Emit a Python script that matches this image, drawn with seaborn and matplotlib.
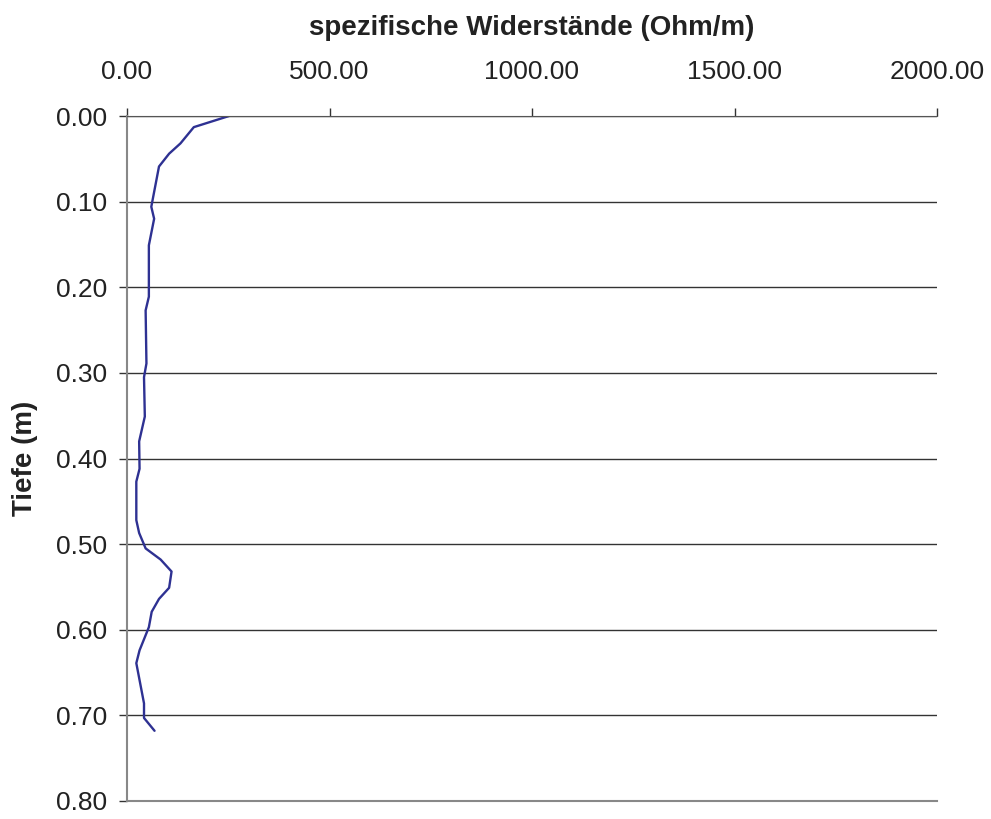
import pandas as pd
import matplotlib
matplotlib.use('Agg')
import matplotlib.pyplot as plt
import seaborn as sns

tiefe = [0.000, 0.013, 0.032, 0.044, 0.059, 0.106, 0.120, 0.151, 0.211, 0.227,
         0.289, 0.305, 0.351, 0.380, 0.412, 0.427, 0.472, 0.487, 0.505, 0.518,
         0.532, 0.551, 0.564, 0.579, 0.597, 0.624, 0.639, 0.686, 0.703, 0.718]
widerstand = [252, 165, 132, 104, 79, 60, 67, 54, 54, 46,
              48, 42, 44, 30, 31, 23, 23, 30, 46, 83,
              110, 104, 79, 61, 54, 31, 23, 42, 42, 68]

x_ticks = [0, 500, 1000, 1500, 2000]
y_ticks = [0.0, 0.1, 0.2, 0.3, 0.4, 0.5, 0.6, 0.7, 0.8]

df = pd.DataFrame({'Tiefe': tiefe, 'Widerstand': widerstand})

sns.set_style('white')
plt.rcParams['font.family'] = ['Liberation Sans', 'DejaVu Sans']

fig = plt.figure(figsize=(9.91, 8.19), dpi=100)
ax = fig.add_axes([127 / 991, 1 - 801 / 819, 810 / 991, 685 / 819])

sns.lineplot(data=df, x='Widerstand', y='Tiefe', sort=False, estimator=None,
             color='#2e3192', linewidth=1.7, ax=ax)

ax.set_xlim(0, 2000)
ax.set_ylim(0.8, 0)
ax.set_xticks(x_ticks)
ax.set_yticks(y_ticks)
ax.xaxis.set_major_formatter(matplotlib.ticker.FormatStrFormatter('%.2f'))
ax.yaxis.set_major_formatter(matplotlib.ticker.FormatStrFormatter('%.2f'))
ax.xaxis.tick_top()
ax.xaxis.set_label_position('top')

ax.yaxis.grid(True, color='#333333', linewidth=1.0)
ax.xaxis.grid(False)

ax.spines['right'].set_visible(False)
ax.spines['bottom'].set_color('#888888')
ax.spines['bottom'].set_linewidth(1.5)
ax.spines['top'].set_color('#555555')
ax.spines['left'].set_color('#888888')
ax.spines['left'].set_linewidth(1.5)

ax.tick_params(axis='x', which='major', top=True, bottom=False, direction='out',
               length=6, width=1, color='#333333', labelsize=19, pad=17,
               labelcolor='#222222')
ax.tick_params(axis='y', which='major', left=True, direction='out',
               length=6, width=1, color='#333333', labelsize=19, pad=8,
               labelcolor='#222222')

ax.set_xlabel('spezifische Widerstände (Ohm/m)', fontsize=20, fontweight='bold',
              labelpad=18, color='#222222')
ax.set_ylabel('Tiefe (m)', fontsize=20, fontweight='bold', labelpad=13,
              color='#222222')

fig.savefig('out.png', dpi=100)
plt.close()
